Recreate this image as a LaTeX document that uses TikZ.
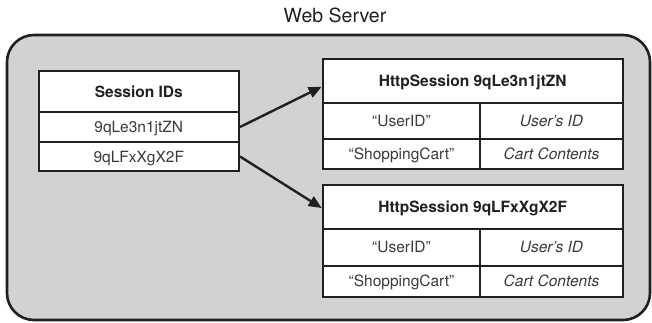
\documentclass[tikz,border=0pt]{standalone}
\usepackage{fontspec}
\setmainfont{TeX Gyre Heros}
\usetikzlibrary{arrows.meta}

\definecolor{ink}{HTML}{231F20}
\definecolor{txt}{HTML}{3A3A3A}
\definecolor{panel}{HTML}{D1D2D4}

\begin{document}
\begin{tikzpicture}[x=1pt, y=-1pt,
  panelbox/.style={draw=ink, fill=panel, line width=2.6pt, rounded corners=27pt,
    inner sep=0pt, minimum width=643pt, minimum height=285pt},
  cell/.style={draw=ink, fill=white, line width=2pt, inner sep=0pt,
    text=txt, font=\fontsize{15.5}{18}\selectfont,
    text height=11.1pt, text depth=0pt},
  headcell/.style={cell, text=ink, font=\fontsize{15.5}{18}\selectfont\bfseries},
  link/.style={draw=ink, line width=2.4pt,
    -{Triangle[length=13pt, width=11pt]}}
]
\useasboundingbox (0,0) rectangle (652,322);

% server panel and its caption
\node[panelbox] (server) at (328.5,177.5) {};
\node[text=ink, font=\fontsize{19.5}{22}\selectfont,
      text height=14pt, text depth=0pt] (title) at (335,15) {Web Server};

% table of session IDs
\node[headcell, minimum width=200.5pt, minimum height=41pt] (sidh) at (138.75,91.5) {Session IDs};
\node[cell, minimum width=200.5pt, minimum height=30pt] (sid1) at (138.75,127) {9qLe3n1jtZN};
\node[cell, minimum width=200.5pt, minimum height=29pt] (sid2) at (138.75,156.5) {9qLFxXgX2F};

% first session
\node[headcell, minimum width=300pt, minimum height=43.4pt] (hsAh) at (472.7,81) {HttpSession 9qLe3n1jtZN};
\node[cell, minimum width=157.6pt, minimum height=36.6pt] (hsAk1) at (401.5,121) {“UserID”};
\node[cell, minimum width=142.4pt, minimum height=36.6pt] (hsAv1) at (551.5,121) {\itshape User’s ID};
\node[cell, minimum width=157.6pt, minimum height=30pt] (hsAk2) at (401.5,154.3) {“ShoppingCart”};
\node[cell, minimum width=142.4pt, minimum height=30pt] (hsAv2) at (551.5,154.3) {\itshape Cart Contents};

% second session
\node[headcell, minimum width=300pt, minimum height=44pt] (hsBh) at (472.7,206.7) {HttpSession 9qLFxXgX2F};
\node[cell, minimum width=157.6pt, minimum height=37pt] (hsBk1) at (401.5,247.2) {“UserID”};
\node[cell, minimum width=142.4pt, minimum height=37pt] (hsBv1) at (551.5,247.2) {\itshape User’s ID};
\node[cell, minimum width=157.6pt, minimum height=31pt] (hsBk2) at (401.5,281.2) {“ShoppingCart”};
\node[cell, minimum width=142.4pt, minimum height=31pt] (hsBv2) at (551.5,281.2) {\itshape Cart Contents};

% each ID points to its session
\draw[link] (sid1.east) -- ([yshift=-5.7pt]hsAh.west);
\draw[link] (sid2.east) -- ([yshift=-1.3pt]hsBh.west);
\end{tikzpicture}
\end{document}
